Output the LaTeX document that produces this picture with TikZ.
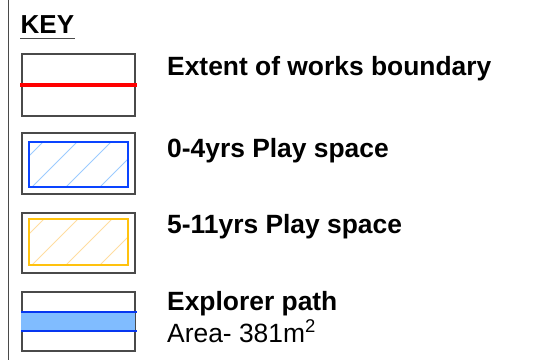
\documentclass[tikz,border=0pt]{standalone}
\usepackage{fontspec}
\setmainfont{Liberation Sans}
\definecolor{boxgray}{HTML}{4A4A4A}
\definecolor{kblue}{HTML}{0A44FF}
\definecolor{khatchblue}{HTML}{9CCBFF}
\definecolor{kyellow}{HTML}{FFC20E}
\definecolor{khatchyellow}{HTML}{FFDDA0}
\definecolor{pathfill}{HTML}{80BCFF}
\definecolor{pathline}{HTML}{0636F0}
\begin{document}
\begin{tikzpicture}[x=1pt,y=-1pt,
  keybox/.style={draw=boxgray,line width=1.3pt},
  label/.style={anchor=base west,inner sep=0pt,font=\fontsize{26.4}{30}\selectfont\bfseries},
  sublabel/.style={anchor=base west,inner sep=0pt,font=\fontsize{26.4}{30}\selectfont}]
\useasboundingbox (0,0) rectangle (543,360);
% left rule
\draw[line width=1.5pt,boxgray] (8.7,0) -- (8.7,360);
% KEY
\node[label,anchor=base west,font=\fontsize{26}{30}\selectfont\bfseries] (key) at (20.5,33) {KEY};
\draw[line width=1.3pt,boxgray] (20,38.5) -- (75,38.5);
% box 1
\draw[keybox] (22,54) rectangle (135,116);
\draw[red,line width=4pt] (20,85) -- (137,85);
\node[label] (l1) at (167,75) {Extent of works boundary};
% box 2
\draw[keybox] (22,133) rectangle (135,194);
\begin{scope}
\clip (29,142) rectangle (128,187);
\foreach \a in {-36,-2,32,66,100,134}
  \draw[khatchblue,line width=0.8pt] (\a,187) -- ++(45,-45);
\end{scope}
\draw[kblue,line width=2pt] (29,142) rectangle (128,187);
\node[label] (l2) at (167,157) {0-4yrs Play space};
% box 3
\draw[keybox] (22,213) rectangle (135,273);
\begin{scope}
\clip (29,219) rectangle (128,265);
\foreach \a in {-36,-2,32,66,100,134}
  \draw[khatchyellow,line width=0.8pt] (\a,265) -- ++(46,-46);
\end{scope}
\draw[kyellow,line width=2pt] (29,219) rectangle (128,265);
\node[label] (l3) at (167,233) {5-11yrs Play space};
% box 4
\draw[keybox] (22,292) rectangle (135,351);
\fill[pathfill] (21,312) rectangle (135,331);
\draw[pathline,line width=2.2pt] (21,312) -- (137,312);
\draw[pathline,line width=2.2pt] (21,331) -- (137,331);
\node[label] (l4) at (167,310) {Explorer path};
\node[sublabel] (l5) at (167,342) {Area- 381m\textsuperscript{2}};
\end{tikzpicture}
\end{document}
